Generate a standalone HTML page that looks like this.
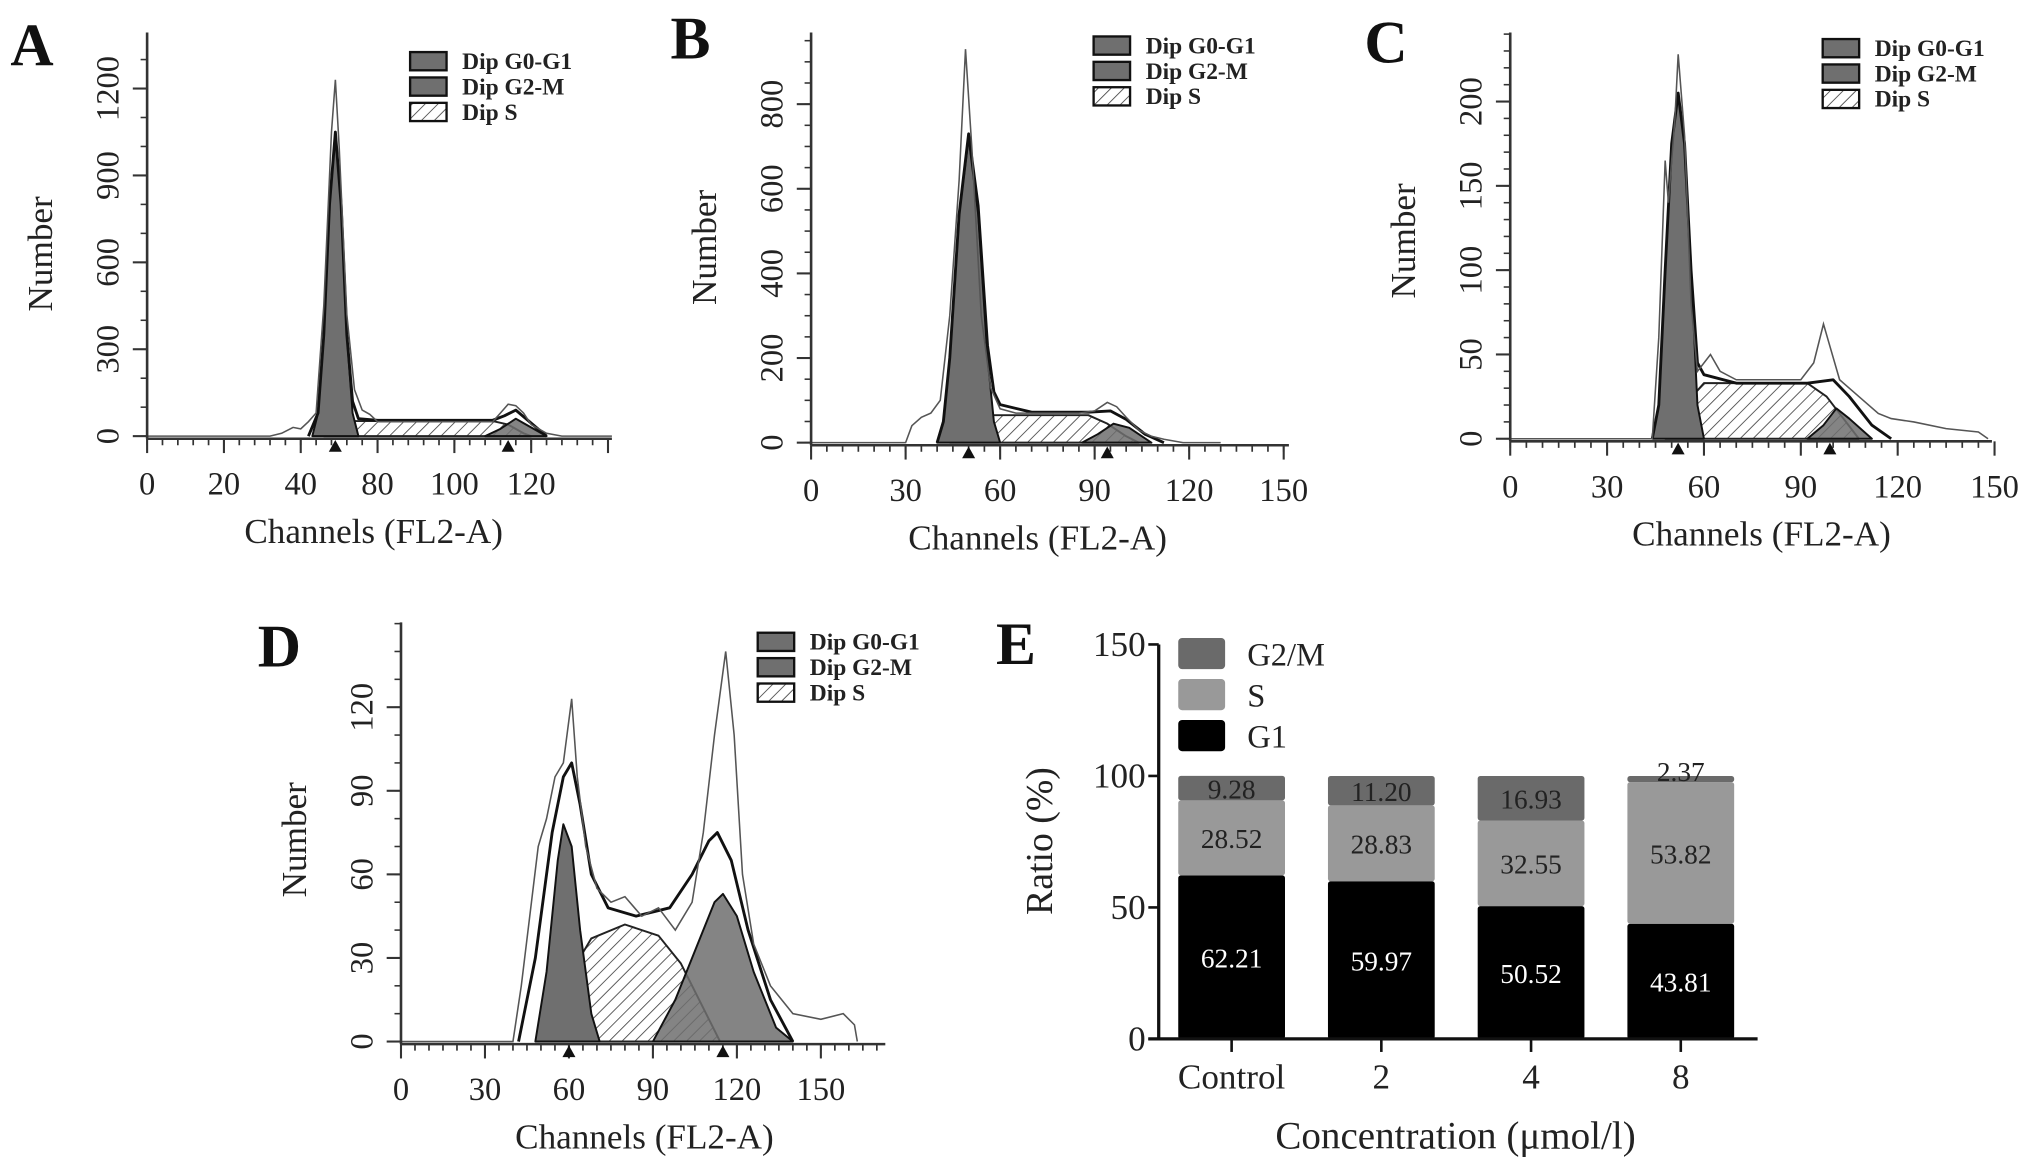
<!DOCTYPE html>
<html><head><meta charset="utf-8">
<style>
html,body{margin:0;padding:0;background:#fff;}
svg{display:block;}
svg text{font-family:"Liberation Serif","Times New Roman",serif !important;}
</style></head>
<body>
<svg id="fig" font-family="Liberation Serif, serif" width="2031" height="1163" viewBox="0 0 1560 893.3" preserveAspectRatio="none" xmlns="http://www.w3.org/2000/svg">
<defs>
<pattern id="hatch" patternUnits="userSpaceOnUse" width="7" height="7" patternTransform="rotate(45)">
<rect width="7" height="7" fill="#fff"/><line x1="0" y1="0" x2="0" y2="7" stroke="#444" stroke-width="1.3"/>
</pattern>
</defs>
</svg>
<script>
// ---------- Panel A data ----------
const aXTicks=[0,20,40,60,80,100,120];
const aXTickLabels=["0","20","40","80","100","120",""];
const aYTicks=[0,300,600,900,1200];
const aRaw=[[0,0],[32,0],[35,10],[38,30],[40,25],[42,50],[44,80],[46,450],[48,1050],[49,1230],[50,1000],[52,420],[54,160],[56,90],[58,75],[60,50],[90,50],[92,80],[94,110],[96,105],[98,80],[100,40],[104,10],[108,0],[121,0]];
const aG1=[[43,0],[44.5,80],[46,350],[47.5,800],[49,1050],[50.5,800],[52,350],[53.5,80],[55,0]];
const aS=[[46,0],[50,35],[54,52],[90,52],[94,40],[98,10],[100,0]];
const aG2=[[88,0],[92,25],[96,60],[98,45],[104,0]];
const aFit=[[42,0],[44.5,80],[46,350],[47.5,800],[49,1050],[50.5,800],[52,350],[53.5,120],[55,60],[60,55],[90,55],[93,70],[96,90],[100,45],[104,0]];
const aMarks=[49,94];
// ---------- Panel B data ----------
const bXTicks=[0,30,60,90,120,150];
const bYTicks=[0,200,400,600,800];
const bRaw=[[0,0],[30,0],[32,40],[35,60],[38,70],[41,100],[44,300],[47,620],[49,930],[51,700],[54,300],[57,130],[60,80],[65,70],[85,70],[90,75],[94,95],[97,85],[100,60],[104,30],[108,15],[112,8],[118,0],[130,0]];
const bG1=[[40,0],[42,50],[44,200],[47,540],[50,720],[53,540],[56,200],[58,50],[60,0]];
const bS=[[44,0],[50,40],[56,65],[88,65],[94,45],[100,15],[104,0]];
const bG2=[[86,0],[91,20],[96,45],[101,35],[108,0]];
const bFit=[[40,0],[42,50],[44,200],[47,540],[50,730],[53,560],[56,230],[58,120],[60,90],[70,72],[88,72],[95,75],[100,55],[106,20],[112,0]];
const bMarks=[50,94];
// ---------- Panel C data ----------
const cXTicks=[0,30,60,90,120,150];
const cYTicks=[0,50,100,150,200];
const cRaw=[[0,0],[44,0],[46,60],[48,165],[49,140],[51,190],[52,228],[54,180],[56,80],[58,40],[62,50],[65,40],[70,35],[90,35],[94,45],[97,68],[99,55],[102,35],[108,25],[114,15],[118,12],[125,10],[135,6],[145,4],[148,0]];
const cG1=[[44,0],[46,20],[48,100],[50,175],[52,205],[54,175],[56,100],[58,20],[60,0]];
const cS=[[48,0],[54,20],[60,33],[92,33],[98,25],[104,10],[108,0]];
const cG2=[[92,0],[97,8],[101,18],[105,12],[112,0]];
const cFit=[[44,0],[46,20],[48,100],[50,175],[52,205],[54,175],[56,100],[58,45],[60,38],[70,33],[92,33],[100,35],[105,25],[112,8],[118,0]];
const cMarks=[52,99];
// ---------- Panel D data ----------
const dXTicks=[0,30,60,90,120,150];
const dYTicks=[0,30,60,90,120];
const dRaw=[[0,0],[40,0],[43,20],[46,45],[49,70],[52,80],[55,95],[58,100],[61,123],[63,95],[66,70],[70,55],[75,50],[80,52],[86,45],[92,48],[98,40],[104,50],[108,75],[112,110],[116,140],[119,110],[122,60],[126,35],[132,20],[140,10],[150,8],[158,10],[162,6],[163,0]];
const dG1=[[48,0],[52,25],[56,65],[58,78],[61,70],[64,40],[68,10],[71,0]];
const dS=[[50,0],[58,20],[68,37],[80,42],[92,38],[100,28],[108,12],[114,0]];
const dG2=[[90,0],[98,15],[106,35],[112,50],[115,53],[120,45],[126,25],[134,5],[140,0]];
const dFit=[[42,0],[48,30],[54,75],[58,95],[61,100],[64,85],[68,60],[74,48],[84,45],[96,48],[104,60],[110,72],[113,75],[118,65],[124,40],[132,15],[140,0]];
const dMarks=[60,115];
// ---------- Panel E data ----------
const eCategories=["Control","2","4","8"];
const eG1=[62.21,59.97,50.52,43.81];
const eS=[28.52,28.83,32.55,53.82];
const eG2M=[9.28,11.20,16.93,2.37];
const eYTicks=[0,50,100,150];

const svg=document.getElementById('fig');
const NS="http://www.w3.org/2000/svg";
function mk(tag,attrs,parent){const e=document.createElementNS(NS,tag);for(const k in attrs)e.setAttribute(k,attrs[k]);(parent||svg).appendChild(e);return e;}
function txt(s,attrs,parent){attrs['font-family']='Liberation Serif, serif';const t=mk('text',attrs,parent);t.textContent=s;return t;}

function panel(cfg){
  const g=mk('g',{});
  
  
  const sx=v=>cfg.x0+(v-cfg.xmin)*cfg.xs;
  const sy=v=>cfg.y0-v*cfg.ys;
  const pts=arr=>arr.map(p=>sx(p[0]).toFixed(1)+','+sy(p[1]).toFixed(1)).join(' ');
  const s=mk('polygon',{points:pts(cfg.S),fill:'url(#hatch)',stroke:'#222','stroke-width':1.5,'stroke-linejoin':'round'},g);
  
  
  const g1=mk('polygon',{points:pts(cfg.G1),fill:'#6f6f6f',stroke:'#111','stroke-width':1.5,'stroke-linejoin':'round'},g);
  
  
  const g2=mk('polygon',{points:pts(cfg.G2),fill:'#6f6f6f','fill-opacity':0.85,stroke:'#111','stroke-width':1.5,'stroke-linejoin':'round'},g);
  
  
  const fit=mk('polyline',{points:pts(cfg.Fit),fill:'none',stroke:'#111','stroke-width':2.2,'stroke-linejoin':'round'},g);
  
  
  const raw=mk('polyline',{points:pts(cfg.Raw),fill:'none',stroke:'#555','stroke-width':1.2},g);
  
  
  const yl=mk('line',{x1:cfg.x0,y1:cfg.y0+2,x2:cfg.x0,y2:cfg.ytop,stroke:'#333','stroke-width':2},g);
  
  
  const xl=mk('line',{x1:cfg.x0,y1:cfg.y0+2,x2:cfg.xend,y2:cfg.y0+2,stroke:'#333','stroke-width':2},g);
  
  
  for(let x=cfg.x0;x<=cfg.xend+0.5;x+=cfg.xminor){mk('line',{x1:x,y1:cfg.y0+2,x2:x,y2:cfg.y0+7,stroke:'#333','stroke-width':1.3},g);}
  cfg.xTicks.forEach((v,i)=>{
    const x=sx(v);
    mk('line',{x1:x,y1:cfg.y0+2,x2:x,y2:cfg.y0+13,stroke:'#333','stroke-width':1.6},g);
    const lab=cfg.xLabels?cfg.xLabels[i]:String(v);
    if(lab){const t=txt(lab,{x:x,y:cfg.y0+45,'font-size':25,'text-anchor':'middle',fill:'#222'},g);
    
    }
  });
  const ystep=cfg.yTicks[1]*cfg.ys/ (cfg.yminorN);
  for(let y=cfg.y0;y>=cfg.ytop;y-=ystep){mk('line',{x1:cfg.x0-5,y1:y,x2:cfg.x0,y2:y,stroke:'#333','stroke-width':1.2},g);}
  cfg.yTicks.forEach(v=>{
    const y=sy(v);
    mk('line',{x1:cfg.x0-11,y1:y,x2:cfg.x0,y2:y,stroke:'#333','stroke-width':1.6},g);
    const t=txt(String(v),{x:cfg.x0-22,y:y,'font-size':25,'text-anchor':'middle',fill:'#222',transform:`rotate(-90 ${cfg.x0-22} ${y})`},g);
    
    
  });
  cfg.marks.forEach(v=>{const x=sx(v);mk('polygon',{points:`${x-5},${cfg.y0+12} ${x+5},${cfg.y0+12} ${x},${cfg.y0+3}`,fill:'#111'},g);});
  const xt=txt('Channels (FL2-A)',{x:cfg.xtitleX,y:cfg.y0+82,'font-size':27,'text-anchor':'middle',fill:'#222'},g);
  
  
  const ytx=cfg.x0-73, yty=cfg.ytitleY;
  const yt=txt('Number',{x:ytx,y:yty,'font-size':27,'text-anchor':'middle',fill:'#222',transform:`rotate(-90 ${ytx} ${yty})`},g);
  
  
  const L=txt(cfg.letter,{x:cfg.lx,y:cfg.ly,'font-size':46,'font-weight':'bold',fill:'#111'},g);
  
  
  const leg=mk('g',{},g);
  
  
  const items=[['Dip G0-G1','#6f6f6f'],['Dip G2-M','#6f6f6f'],['Dip S','url(#hatch)']];
  items.forEach((it,i)=>{
    const y=cfg.legY+i*19.5;
    mk('rect',{x:cfg.legX,y:y-12,width:28,height:14,fill:it[1],stroke:'#111','stroke-width':1.8},leg);
    const t=txt(it[0],{x:cfg.legX+40,y:y+1,'font-size':18,'font-weight':'bold',fill:'#222'},leg);
    
    
  });
}

panel({name:'panel-a',letter:'A',lx:8,ly:50,x0:113,y0:335,ytop:25,xend:470,xmin:0,xs:2.95,ys:0.2225,xminor:11.8,yminorN:3,
  xTicks:aXTicks,xLabels:aXTickLabels,yTicks:aYTicks,Raw:aRaw,G1:aG1,S:aS,G2:aG2,Fit:aFit,marks:aMarks,
  xtitleX:287,ytitleY:195,legX:315,legY:52});
panel({name:'panel-b',letter:'B',lx:515,ly:45,x0:623,y0:340,ytop:25,xend:990,xmin:0,xs:2.42,ys:0.325,xminor:12.1,yminorN:4,
  xTicks:bXTicks,yTicks:bYTicks,Raw:bRaw,G1:bG1,S:bS,G2:bG2,Fit:bFit,marks:bMarks,
  xtitleX:797,ytitleY:190,legX:840,legY:40});
panel({name:'panel-c',letter:'C',lx:1048,ly:48,x0:1160,y0:337,ytop:25,xend:1530,xmin:0,xs:2.48,ys:1.295,xminor:12.4,yminorN:5,
  xTicks:cXTicks,yTicks:cYTicks,Raw:cRaw,G1:cG1,S:cS,G2:cG2,Fit:cFit,marks:cMarks,
  xtitleX:1353,ytitleY:185,legX:1400,legY:42});
panel({name:'panel-d',letter:'D',lx:198,ly:512,x0:308,y0:800,ytop:478,xend:680,xmin:0,xs:2.15,ys:2.14,xminor:10.75,yminorN:3,
  xTicks:dXTicks,yTicks:dYTicks,Raw:dRaw,G1:dG1,S:dS,G2:dG2,Fit:dFit,marks:dMarks,
  xtitleX:495,ytitleY:645,legX:582,legY:498});

(function(){
  const g=mk('g',{});
  
  
  const x0=890,y0=798,ys=303/150;
  const sy=v=>y0-v*ys;
  const cx=i=>946+i*115;
  const bw=82;
  const L=txt('E',{x:765,y:510,'font-size':46,'font-weight':'bold',fill:'#111'},g);
  
  
  eCategories.forEach((c,i)=>{
    const segs=[[eG1[i],'#000','#fff'],[eS[i],'#999','#222'],[eG2M[i],'#6a6a6a','#222']];
    let base=0;
    const names=['bar-g1','bar-s','bar-g2m'];
    segs.forEach((s,j)=>{
      const r=mk('rect',{x:cx(i)-bw/2,y:sy(base+s[0]),width:bw,height:s[0]*ys,fill:s[1],rx:2},g);
      
      
      let ly=sy(base+s[0]/2)+8;
      if(s[0]<5) ly=sy(base+s[0])+4;
      const t=txt(s[0].toFixed(2),{x:cx(i),y:ly,'font-size':21,'text-anchor':'middle',fill:s[2]},g);
      
      
      base+=s[0];
    });
    mk('line',{x1:cx(i),y1:y0,x2:cx(i),y2:y0+10,stroke:'#111','stroke-width':2},g);
    const t=txt(c,{x:cx(i),y:y0+38,'font-size':27,'text-anchor':'middle',fill:'#222'},g);
    
    
  });
  const yl=mk('line',{x1:x0,y1:y0,x2:x0,y2:sy(150),stroke:'#111','stroke-width':2.5},g);
  
  
  const xl=mk('line',{x1:x0-8,y1:y0,x2:1350,y2:y0,stroke:'#111','stroke-width':2.5},g);
  
  
  eYTicks.forEach(v=>{
    mk('line',{x1:x0-8,y1:sy(v),x2:x0,y2:sy(v),stroke:'#111','stroke-width':2},g);
    const t=txt(String(v),{x:x0-10,y:sy(v)+9,'font-size':27,'text-anchor':'end',fill:'#222'},g);
    
    
  });
  const yt=txt('Ratio (%)',{x:808,y:646,'font-size':29,'text-anchor':'middle',fill:'#222',transform:'rotate(-90 808 646)'},g);
  
  
  const xt=txt('Concentration (μmol/l)',{x:1118,y:882,'font-size':30,'text-anchor':'middle',fill:'#222'},g);
  
  
  const leg=[['G2/M','#6a6a6a'],['S','#999'],['G1','#000']];
  leg.forEach((l,i)=>{
    const y=490+i*31.5;
    mk('rect',{x:905,y:y,width:36,height:24,fill:l[1],rx:3},g);
    const t=txt(l[0],{x:958,y:y+21,'font-size':25,fill:'#222'},g);
    
    
  });
})();
</script>
</body></html>
